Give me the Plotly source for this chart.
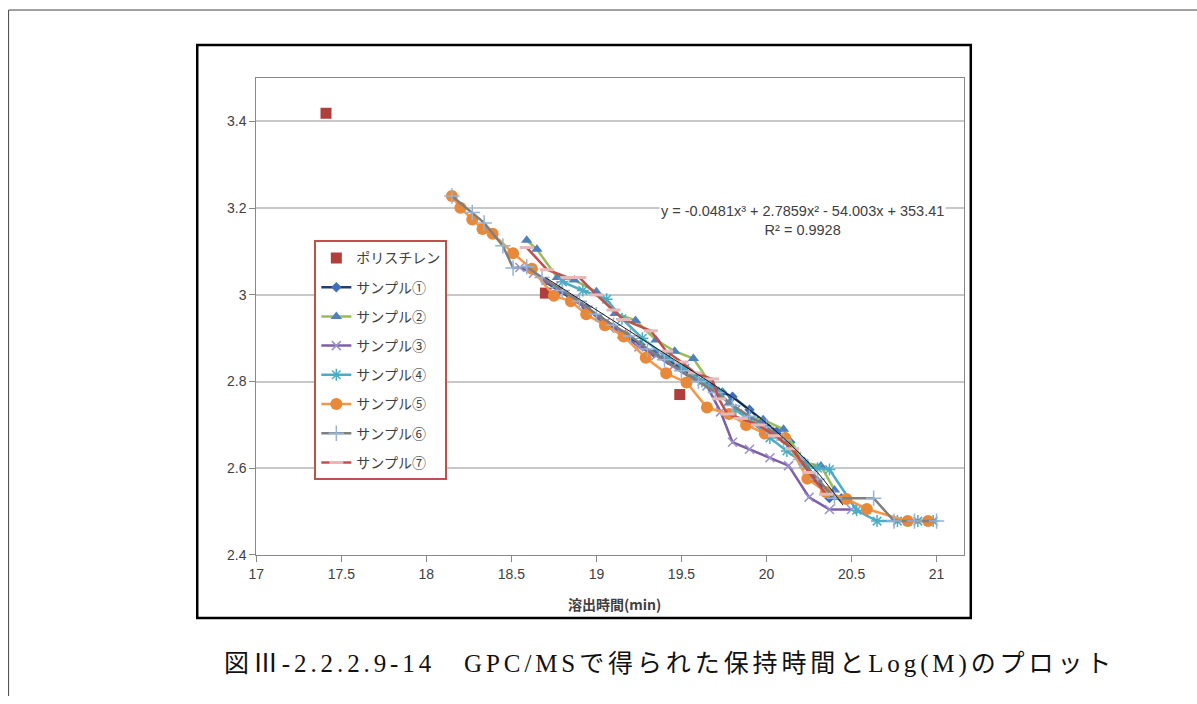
import plotly.graph_objects as go

W, H = 1197, 704

# ---------------- data ----------------
ps_x = [17.41, 18.70, 19.49]
ps_y = [3.419, 3.004, 2.770]

s1_x = [18.70, 18.78, 18.86, 18.94, 19.02, 19.10, 19.18, 19.26, 19.34, 19.42, 19.50, 19.58, 19.66, 19.74, 19.80, 19.90, 19.98, 20.06, 20.14, 20.22, 20.30, 20.37, 20.44]
s1_y = [3.030, 3.010, 2.990, 2.970, 2.945, 2.925, 2.905, 2.885, 2.865, 2.850, 2.830, 2.810, 2.795, 2.775, 2.765, 2.735, 2.710, 2.685, 2.660, 2.615, 2.570, 2.531, 2.531]

s2_x = [18.59, 18.65, 18.77, 18.87, 19.00, 19.11, 19.23, 19.35, 19.46, 19.57, 19.68, 19.78, 19.89, 19.98, 20.10, 20.22, 20.32, 20.40]
s2_y = [3.126, 3.105, 3.040, 3.034, 3.007, 2.957, 2.941, 2.896, 2.870, 2.853, 2.790, 2.750, 2.717, 2.712, 2.690, 2.614, 2.605, 2.550]

s3_x = [18.55, 18.63, 18.75, 18.87, 18.95, 19.05, 19.15, 19.25, 19.35, 19.45, 19.55, 19.65, 19.73, 19.80, 19.90, 20.02, 20.13, 20.25, 20.37, 20.50]
s3_y = [3.063, 3.050, 3.020, 2.990, 2.965, 2.935, 2.910, 2.880, 2.860, 2.835, 2.810, 2.790, 2.730, 2.660, 2.644, 2.624, 2.606, 2.533, 2.505, 2.505]

s4_x = [18.80, 18.92, 19.06, 19.15, 19.27, 19.40, 19.52, 19.62, 19.72, 19.82, 19.92, 20.02, 20.12, 20.22, 20.30, 20.37, 20.53, 20.65, 20.77, 20.89, 20.98]
s4_y = [3.030, 3.010, 2.990, 2.945, 2.900, 2.860, 2.830, 2.800, 2.775, 2.735, 2.705, 2.670, 2.640, 2.610, 2.600, 2.597, 2.503, 2.478, 2.478, 2.478, 2.478]

s5_x = [18.15, 18.20, 18.27, 18.33, 18.39, 18.51, 18.62, 18.75, 18.85, 18.94, 19.05, 19.16, 19.29, 19.41, 19.53, 19.65, 19.78, 19.88, 19.99, 20.11, 20.24, 20.35, 20.47, 20.59, 20.83, 20.95]
s5_y = [3.228, 3.201, 3.174, 3.152, 3.141, 3.096, 3.060, 2.998, 2.985, 2.955, 2.930, 2.904, 2.855, 2.819, 2.798, 2.740, 2.725, 2.700, 2.680, 2.670, 2.576, 2.545, 2.529, 2.506, 2.478, 2.478]

s6_x = [18.15, 18.27, 18.34, 18.45, 18.51, 18.59, 18.68, 18.80, 18.90, 19.00, 19.10, 19.20, 19.30, 19.40, 19.50, 19.60, 19.70, 19.80, 19.90, 20.00, 20.10, 20.20, 20.30, 20.40, 20.63, 20.75, 20.87, 21.00]
s6_y = [3.228, 3.190, 3.166, 3.113, 3.062, 3.065, 3.040, 3.010, 2.985, 2.955, 2.930, 2.905, 2.875, 2.850, 2.825, 2.800, 2.775, 2.745, 2.720, 2.695, 2.665, 2.620, 2.575, 2.531, 2.531, 2.478, 2.478, 2.478]

s7_x = [18.59, 18.71, 18.83, 18.90, 19.00, 19.10, 19.16, 19.32, 19.41, 19.50, 19.58, 19.68, 19.72, 19.77, 19.85, 19.95, 20.05, 20.15, 20.25, 20.35]
s7_y = [3.109, 3.058, 3.040, 3.040, 3.000, 2.965, 2.943, 2.917, 2.870, 2.845, 2.820, 2.806, 2.760, 2.725, 2.715, 2.700, 2.675, 2.645, 2.590, 2.540]

trend_x = [18.70, 18.90, 19.10, 19.30, 19.50, 19.70, 19.90, 20.10, 20.30, 20.45]
trend_y = [3.040, 2.990, 2.940, 2.890, 2.840, 2.790, 2.735, 2.670, 2.590, 2.515]

x_ticks = [17, 17.5, 18, 18.5, 19, 19.5, 20, 20.5, 21]
y_ticks = [2.4, 2.6, 2.8, 3.0, 3.2, 3.4]

names = ["ポリスチレン", "サンプル①", "サンプル②", "サンプル③", "サンプル④", "サンプル⑤", "サンプル⑥", "サンプル⑦"]
equation = "y = -0.0481x³ + 2.7859x² - 54.003x + 353.41<br>R² = 0.9928"
x_title = "溶出時間(min)"
caption = "図Ⅲ-2.2.2.9-14　GPC/MSで得られた保持時間とLog(M)のプロット"

# ---------------- figure ----------------
fig = go.Figure()

# map target picture pixels to paper fractions (compensating observed capture scaling)
def px(x):
    return max(0.0, (x - 7.9) / 0.9926) / W

def py(y):
    return 1 - (y / 0.987) / H

series = [
    (s1_x, s1_y, names[1], "#1F3F78", dict(symbol="diamond", size=8, color="#3F6FB8")),
    (s2_x, s2_y, names[2], "#9BBB59", dict(symbol="triangle-up", size=10, color="#4F81BD")),
    (s3_x, s3_y, names[3], "#7D5FA6", dict(symbol="x-thin", size=9, color="#9A8FD0", line=dict(color="#9A8FD0", width=1.5))),
    (s4_x, s4_y, names[4], "#4BACC6", dict(symbol="asterisk", size=10, color="#4BACC6", line=dict(color="#4BACC6", width=1.5))),
    (s5_x, s5_y, names[5], "#F79646", dict(symbol="circle", size=12, color="#E8893A")),
    (s6_x, s6_y, names[6], "#7F7F7F", dict(symbol="cross-thin", size=11, color="#95B3D7", line=dict(color="#95B3D7", width=1.5))),
    (s7_x, s7_y, names[7], "#C0504D", dict(symbol="line-ew", size=10, color="#E6B9B8", line=dict(color="#E6B9B8", width=3))),
]

fig.add_trace(go.Scatter(x=ps_x, y=ps_y, mode="markers", name=names[0], legendgroup="g0",
                         marker=dict(symbol="square", size=11, color="#B03E3B")))

for i, (xs, ys, nm, lc, mk) in enumerate(series):
    fig.add_trace(go.Scatter(x=xs, y=ys, mode="lines+markers", name=nm, legendgroup=f"g{i+1}",
                             line=dict(color=lc, width=2.5), marker=mk))

fig.add_trace(go.Scatter(x=trend_x, y=trend_y, mode="lines", showlegend=False,
                         line=dict(color="#1A1A1A", width=1, shape="spline")))

x0p, x1p = 256, 963
y0p, y1p = 78, 554

fig.update_layout(
    width=W, height=H, autosize=False,
    margin=dict(l=0, r=0, t=0, b=0),
    paper_bgcolor="white", plot_bgcolor="white",
    font=dict(family="Liberation Sans Narrow, Liberation Sans, Noto Sans CJK JP", size=13, color="#404040"),
    xaxis=dict(domain=[px(x0p), px(x1p)], range=[17, 21.16], tickvals=x_ticks,
               showgrid=False, zeroline=False, showline=True, linecolor="#888888", linewidth=1,
               mirror=True, ticks="outside", ticklen=6, tickcolor="#888888",
               tickfont=dict(size=14, color="#404040")),
    yaxis=dict(domain=[py(y1p), py(y0p)], range=[2.4, 3.5], tickvals=y_ticks,
               showgrid=True, gridcolor="#C8C8C8", gridwidth=1.5, zeroline=False,
               showline=True, linecolor="#888888", linewidth=1, mirror=True,
               ticks="outside", ticklen=6, tickcolor="#888888",
               tickfont=dict(size=14, color="#404040")),
    legend=dict(x=px(314), y=py(240), xanchor="left", yanchor="top",
                bgcolor="white", bordercolor="#C0504D", borderwidth=2,
                font=dict(family="Noto Sans CJK JP", size=14, color="#404040"),
                tracegroupgap=8, traceorder="grouped"),
    showlegend=True,
)

fig.add_annotation(x=px(802), y=py(220), xref="paper", yref="paper", text=equation,
                   xanchor="center", yanchor="middle",
                   showarrow=False, bgcolor="white", align="center",
                   font=dict(family="Liberation Sans Narrow, Liberation Sans", size=14.5, color="#404040"))

fig.add_annotation(x=px(614), y=py(603), xref="paper", yref="paper", text=f"<b>{x_title}</b>",
                   xanchor="center", yanchor="middle", showarrow=False,
                   font=dict(family="Liberation Sans Narrow, Noto Sans CJK JP", size=14, color="#404040"))

fig.add_annotation(x=px(669), y=py(663), xref="paper", yref="paper", text=caption,
                   xanchor="center", yanchor="middle", showarrow=False,
                   font=dict(family="Liberation Serif, Noto Sans CJK JP", size=25, color="#111111"))

# chart frame
fig.add_shape(type="rect", xref="paper", yref="paper", x0=px(197), x1=px(970), y0=py(617), y1=py(45),
              line=dict(color="black", width=2.5), layer="below")
# page border (top and left)
fig.add_shape(type="line", xref="paper", yref="paper", x0=0.0005, x1=1, y0=py(10), y1=py(10),
              line=dict(color="#444444", width=1))
fig.add_shape(type="line", xref="paper", yref="paper", x0=0.0005, x1=0.0005, y0=py(10), y1=0,
              line=dict(color="#444444", width=1))

post = """
document.documentElement.style.margin='0';
document.documentElement.style.padding='0';
document.documentElement.style.overflow='hidden';
document.body.style.margin='0';
document.body.style.padding='0';
document.body.style.overflow='hidden';
var gd = document.getElementById('{plot_id}');
gd.style.position='fixed'; gd.style.left='0px'; gd.style.top='0px';
var tx = document.querySelectorAll('.annotation-text');
tx.forEach(function(t){ if (t.textContent.indexOf('GPC') >= 0) { t.style.letterSpacing='3.9px'; } });
"""

fig.write_html("out.html", post_script=post, config={"displayModeBar": False})
